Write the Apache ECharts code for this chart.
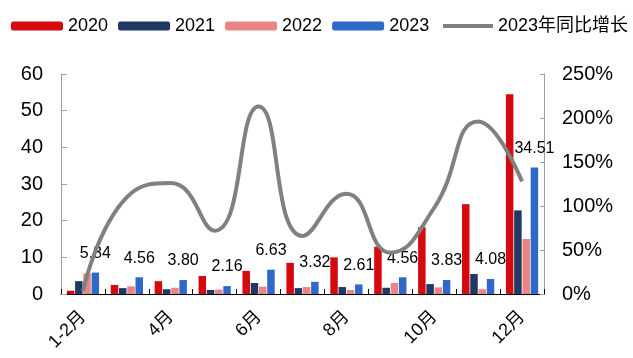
<!DOCTYPE html>
<html>
<head>
<meta charset="utf-8">
<script src="https://cdn.jsdelivr.net/npm/echarts@6/dist/echarts.min.js"></script>
<style>
  html, body { margin: 0; padding: 0; background: #fff; }
  #chart { width: 633px; height: 358px; }
</style>
</head>
<body>
<div id="chart"></div>
<script>
// Monthly volumes by year, with 2023 year-on-year growth (%)
const months = ['1-2月', '3月', '4月', '5月', '6月', '7月', '8月', '9月', '10月', '11月', '12月'];
const y2020 = [0.9, 2.45, 3.5, 4.9, 6.3, 8.5, 10.0, 12.9, 18.2, 24.5, 54.5];
const y2021 = [3.5, 1.6, 1.3, 1.1, 3.0, 1.6, 1.9, 1.7, 2.7, 5.45, 22.8];
const y2022 = [5.6, 2.1, 1.7, 1.2, 2.0, 1.9, 1.1, 3.0, 1.8, 1.3, 15.0];
const y2023 = [5.84, 4.56, 3.80, 2.16, 6.63, 3.32, 2.61, 4.56, 3.83, 4.08, 34.51];
const growth2023 = [3, 110, 126, 72, 213, 66, 114, 47, 98, 196, 128];

const FONT = "'Liberation Sans', Arial, 'Noto Sans CJK SC', sans-serif";
const chart = echarts.init(document.getElementById('chart'));

const barSeries = (name, data, color, extra) => Object.assign({
  name: name,
  type: 'bar',
  data: data,
  barWidth: 7.5,
  barGap: '10%',
  itemStyle: { color: color }
}, extra || {});

const legendText = { fontSize: 18, color: '#000', fontFamily: FONT };

chart.setOption({
  animation: false,
  textStyle: { fontFamily: FONT },
  legend: [
    {
      left: 11,
      top: 17,
      padding: 0,
      width: 440,
      itemWidth: 52,
      itemHeight: 9,
      itemGap: 10,
      textStyle: legendText,
      data: ['2020', '2021', '2022', '2023']
    },
    {
      left: 443,
      top: 17,
      padding: 0,
      width: 200,
      itemWidth: 50,
      itemHeight: 4,
      icon: 'rect',
      textStyle: legendText,
      data: ['2023年同比增长']
    }
  ],
  grid: { left: 61, right: 89, top: 74, bottom: 64 },
  xAxis: {
    type: 'category',
    data: months,
    axisLine: { lineStyle: { color: '#000', width: 1 } },
    axisTick: { show: true, inside: true, length: 5, interval: 0, lineStyle: { color: '#000' } },
    axisLabel: { interval: 1, rotate: 45, margin: 20, fontSize: 18, color: '#000', fontFamily: FONT }
  },
  yAxis: [
    {
      type: 'value', min: 0, max: 60, interval: 10,
      axisLine: { show: true, lineStyle: { color: '#a0a0a0' } },
      axisTick: { show: true, inside: true, length: 6, lineStyle: { color: '#a0a0a0' } },
      splitLine: { show: false },
      axisLabel: { fontSize: 20, color: '#000', margin: 18, fontFamily: FONT }
    },
    {
      type: 'value', min: 0, max: 250, interval: 50,
      axisLine: { show: true, lineStyle: { color: '#a0a0a0' } },
      axisTick: { show: true, inside: true, length: 4, lineStyle: { color: '#a0a0a0' } },
      splitLine: { show: false },
      axisLabel: { fontSize: 20, color: '#000', margin: 18, formatter: '{value}%', fontFamily: FONT }
    }
  ],
  series: [
    barSeries('2020', y2020, '#D50A11'),
    barSeries('2021', y2021, '#1F3864'),
    barSeries('2022', y2022, '#EA8585'),
    barSeries('2023', y2023, '#3068C8', {
      label: {
        show: true, position: 'top', distance: 11,
        fontSize: 16, color: '#000', fontFamily: FONT,
        formatter: p => p.value.toFixed(2)
      }
    }),
    {
      name: '2023年同比增长',
      type: 'line',
      yAxisIndex: 1,
      data: growth2023,
      smooth: 0.5,
      symbol: 'none',
      z: 5,
      lineStyle: { color: '#808080', width: 4 },
      itemStyle: { color: '#808080' }
    }
  ]
});
</script>
</body>
</html>
